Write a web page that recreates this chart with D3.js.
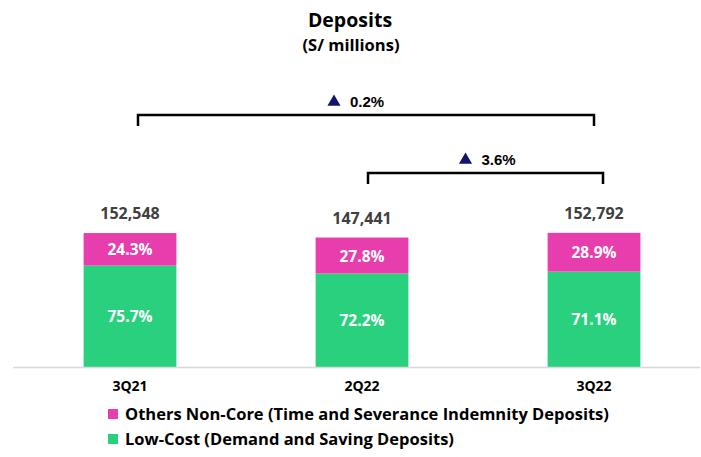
<!DOCTYPE html>
<html>
<head>
<meta charset="utf-8">
<script src="https://cdn.jsdelivr.net/npm/d3@7"></script>
<style>
  body { margin: 0; background: #fff; }
  svg { display: block; font-family: "Open Sans", "Noto Sans", sans-serif; }
</style>
</head>
<body>
<main></main>
<script>
// Data
const quarters = ["3Q21", "2Q22", "3Q22"];
const totals = [152548, 147441, 152792];
const lowCostPct = [75.7, 72.2, 71.1];
const othersPct = [24.3, 27.8, 28.9];
const seriesNames = [
  "Others Non-Core (Time and Severance Indemnity Deposits)",
  "Low-Cost (Demand and Saving Deposits)",
];
const growthLabels = ["0.2%", "3.6%"];
const growthPairs = [[0, 2], [1, 2]];

// Dimensions
const w = 701;
const h = 457;
const baseY = 367;
const pink = "#e83dac";
const green = "#29d17f";

const svg = d3
  .select("main")
  .append("svg")
  .attr("width", w)
  .attr("height", h)
  .attr("viewBox", `0 0 ${w} ${h}`);

// Scales
const xScale = d3.scaleBand().domain(quarters).range([14, 710]).paddingInner(0.6).paddingOuter(0.3);
const yScale = d3.scaleLinear().domain([0, 200000]).range([baseY, baseY - 175.6]);

// Title
svg.append("text")
  .attr("x", 350).attr("y", 27)
  .attr("text-anchor", "middle")
  .attr("font-size", 19.5).attr("font-weight", "bold")
  .text("Deposits");
svg.append("text")
  .attr("x", 351).attr("y", 51)
  .attr("text-anchor", "middle")
  .attr("font-size", 16.5).attr("font-weight", "bold")
  .text("(S/ millions)");

// Stack rows
const rows = quarters.map((q, i) => ({
  q,
  total: totals[i],
  low: totals[i] * lowCostPct[i] / 100,
  lowPct: lowCostPct[i],
  othPct: othersPct[i],
}));

const bars = svg.append("g");
bars.selectAll(".low")
  .data(rows)
  .enter()
  .append("rect")
  .attr("x", (d) => xScale(d.q))
  .attr("width", xScale.bandwidth())
  .attr("y", (d) => yScale(d.low))
  .attr("height", (d) => yScale(0) - yScale(d.low))
  .attr("fill", green);

bars.selectAll(".oth")
  .data(rows)
  .enter()
  .append("rect")
  .attr("x", (d) => xScale(d.q))
  .attr("width", xScale.bandwidth())
  .attr("y", (d) => yScale(d.total))
  .attr("height", (d) => yScale(d.low) - yScale(d.total))
  .attr("fill", pink);

// Axis line
svg.append("line")
  .attr("x1", 13).attr("x2", 700)
  .attr("y1", baseY + 0.5).attr("y2", baseY + 0.5)
  .attr("stroke", "#d9d9d9").attr("stroke-width", 1.5);

// Category labels
svg.selectAll(".cat")
  .data(rows)
  .enter()
  .append("text")
  .attr("x", (d) => xScale(d.q) + xScale.bandwidth() / 2)
  .attr("y", 391)
  .attr("text-anchor", "middle")
  .attr("font-size", 14).attr("font-weight", "bold")
  .text((d) => d.q);

// Total labels
svg.selectAll(".tot")
  .data(rows)
  .enter()
  .append("text")
  .attr("x", (d) => xScale(d.q) + xScale.bandwidth() / 2)
  .attr("y", (d) => yScale(d.total) - 14)
  .attr("text-anchor", "middle")
  .attr("font-size", 16).attr("font-weight", "bold")
  .attr("fill", "#404040")
  .text((d) => d3.format(",")(d.total));

// Percent labels
svg.selectAll(".lowlab")
  .data(rows)
  .enter()
  .append("text")
  .attr("x", (d) => xScale(d.q) + xScale.bandwidth() / 2)
  .attr("y", (d) => (yScale(d.low) + yScale(0)) / 2 + 6)
  .attr("text-anchor", "middle")
  .attr("font-size", 15.5).attr("font-weight", "bold")
  .attr("fill", "#fff")
  .text((d) => d.lowPct.toFixed(1) + "%");

svg.selectAll(".othlab")
  .data(rows)
  .enter()
  .append("text")
  .attr("x", (d) => xScale(d.q) + xScale.bandwidth() / 2)
  .attr("y", (d) => (yScale(d.total) + yScale(d.low)) / 2 + 6)
  .attr("text-anchor", "middle")
  .attr("font-size", 15.5).attr("font-weight", "bold")
  .attr("fill", "#fff")
  .text((d) => d.othPct.toFixed(1) + "%");

// Growth brackets
const bracketY = [115, 173];
const labelShift = [0, 12];
growthPairs.forEach((p, i) => {
  const x1 = xScale(quarters[p[0]]) + xScale.bandwidth() / 2 + (i === 0 ? 8 : 6);
  const x2 = xScale(quarters[p[1]]) + xScale.bandwidth() / 2 + (i === 0 ? 0 : 9);
  const y = bracketY[i];
  svg.append("path")
    .attr("d", `M${x1},${y + 11}V${y}H${x2}V${y + 11}`)
    .attr("fill", "none")
    .attr("stroke", "#000")
    .attr("stroke-width", 2.5);
  const cx = (x1 + x2) / 2 + labelShift[i];
  const g = svg.append("g").attr("transform", `translate(${cx}, ${y - 13})`);
  g.append("path")
    .attr("d", d3.symbol().type(d3.symbolTriangle).size(75))
    .attr("transform", "translate(-32, 0)")
    .attr("fill", "#14146b");
  g.append("text")
    .attr("x", -16).attr("y", 5)
    .attr("font-family", "Liberation Sans, Arial, sans-serif")
    .attr("font-size", 15).attr("font-weight", "bold")
    .text(growthLabels[i]);
});

// Legend
const legend = svg.append("g").attr("transform", "translate(108, 409)");
[pink, green].forEach((c, i) => {
  legend.append("rect")
    .attr("x", 0).attr("y", i * 25)
    .attr("width", 10).attr("height", 10)
    .attr("fill", c);
  legend.append("text")
    .attr("x", 17).attr("y", i * 25 + 11)
    .attr("font-size", 16.5).attr("font-weight", "bold")
    .text(seriesNames[i]);
});
</script>
</body>
</html>
